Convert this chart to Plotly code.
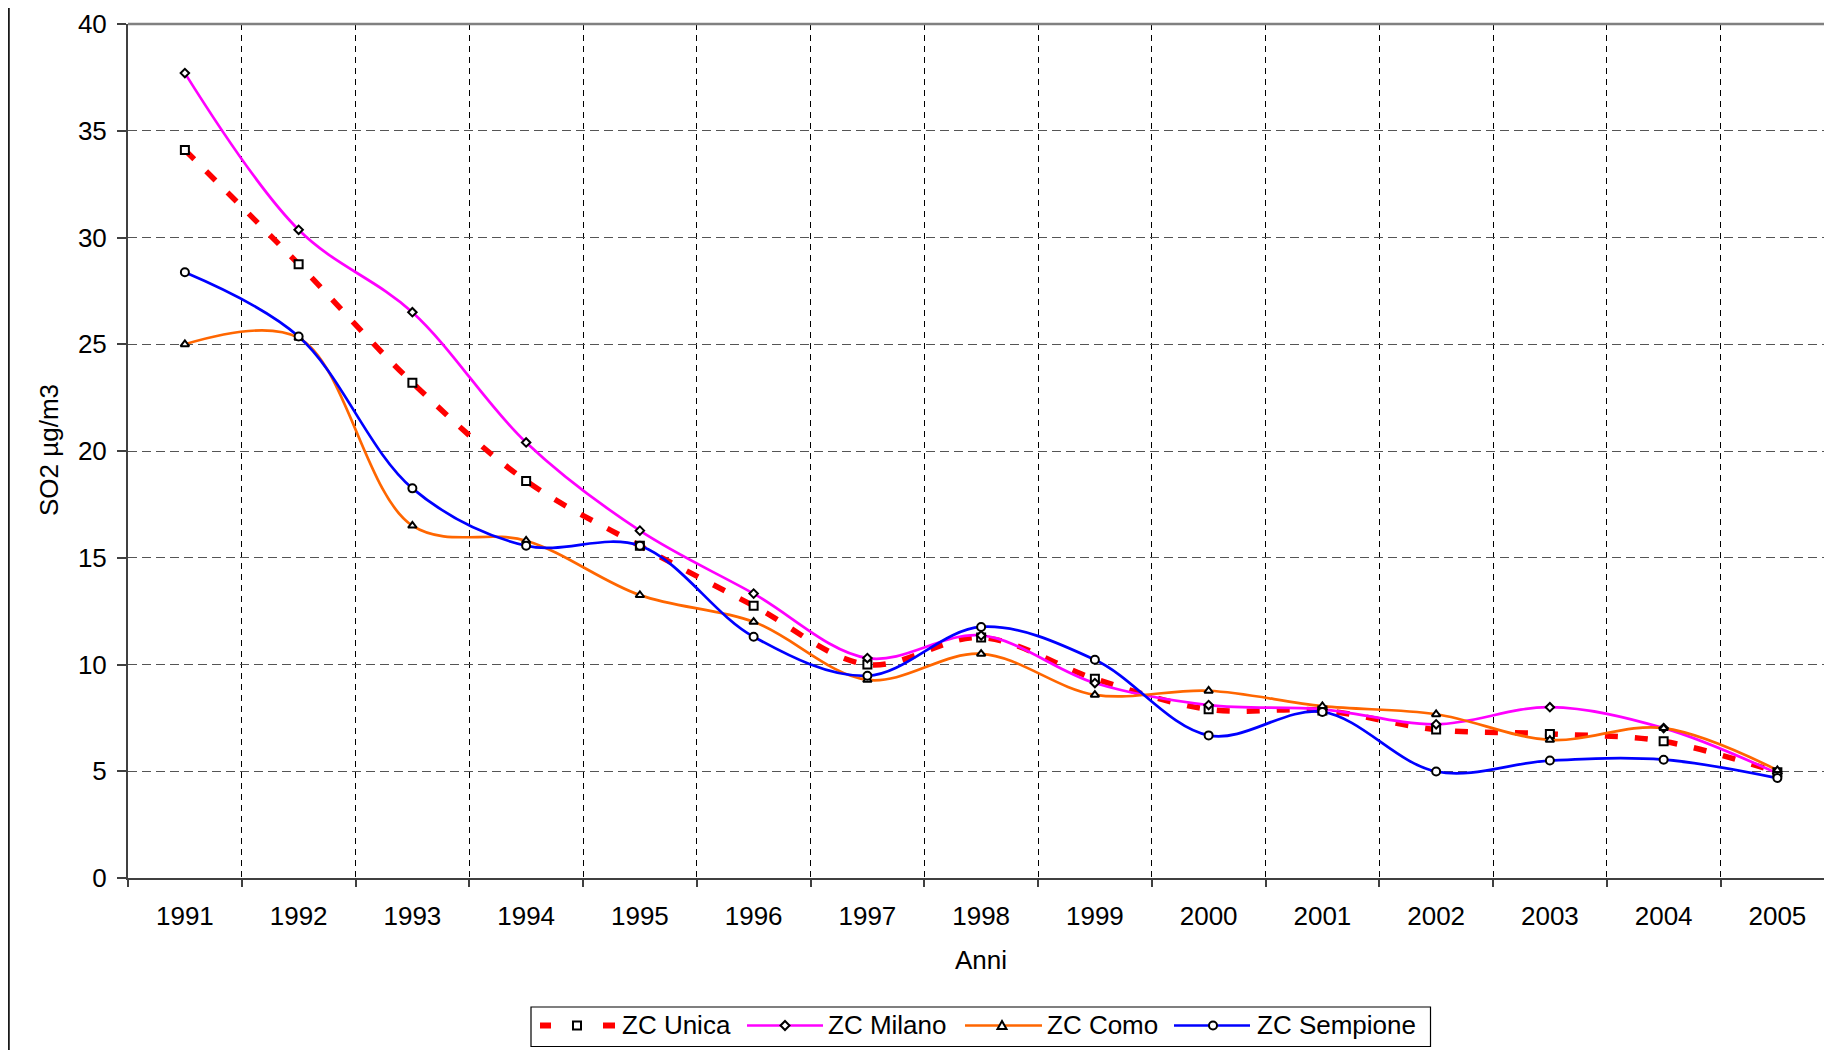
import plotly.graph_objects as go

years = ["1991", "1992", "1993", "1994", "1995", "1996", "1997", "1998",
         "1999", "2000", "2001", "2002", "2003", "2004", "2005"]
zc_unica = [34.1, 28.75, 23.2, 18.6, 15.56, 12.75, 10.0, 11.26, 9.33, 7.9, 7.85, 6.95, 6.75, 6.4, 4.95]
zc_milano = [37.7, 30.36, 26.5, 20.4, 16.27, 13.32, 10.3, 11.36, 9.13, 8.1, 7.9, 7.2, 8.0, 7.02, 4.9]
zc_como = [25.0, 25.3, 16.5, 15.8, 13.25, 12.0, 9.28, 10.5, 8.58, 8.77, 8.05, 7.67, 6.47, 7.02, 5.05]
zc_sempione = [28.37, 25.36, 18.25, 15.56, 15.56, 11.3, 9.47, 11.76, 10.22, 6.68, 7.78, 4.99, 5.5, 5.54, 4.68]

series_names = ["ZC Unica", "ZC Milano", "ZC Como", "ZC Sempione"]
series_values = [zc_unica, zc_milano, zc_como, zc_sempione]
series_colors = ["#FF0000", "#FF00FF", "#FF6600", "#0000FF"]
series_widths = [5.5, 2.7, 2.7, 2.7]
series_dash = ["13px,17px", "solid", "solid", "solid"]
series_symbols = ["square", "diamond", "triangle-up", "circle"]
series_msize = [8, 6.5, 7.5, 8]

FONT = "Liberation Sans, Arial, Helvetica, sans-serif"
FS = 26

# page offset (body margin) and geometry
OFF = 8
W, H = 1832 - OFF, 1050 - OFF
L, R, T, B = 120, 0, 16, 172
pw = W - L - R
ph = H - T - B


def px(page_x):
    return (page_x - OFF - L) / pw


def py(page_y):
    return (H - B - (page_y - OFF)) / ph


fig = go.Figure()

# lines first
for name, vals, color, w, dash in zip(series_names, series_values, series_colors, series_widths, series_dash):
    fig.add_trace(go.Scatter(
        x=years, y=vals, mode="lines", name=name, showlegend=False,
        line=dict(color=color, width=w, dash=dash, shape="spline", smoothing=1.0)))
# markers on top
for name, vals, sym, ms in zip(series_names, series_values, series_symbols, series_msize):
    fig.add_trace(go.Scatter(
        x=years, y=vals, mode="markers", name=name, showlegend=False,
        marker=dict(symbol=sym, size=ms, color="white", line=dict(color="black", width=2))))

fig.update_layout(
    width=W, height=H,
    margin=dict(l=L, r=R, t=T, b=B, autoexpand=False),
    paper_bgcolor="white", plot_bgcolor="white",
    font=dict(family=FONT, size=FS, color="black"),
    showlegend=False,
    xaxis=dict(
        type="category", range=[-0.5, -0.5 + pw / 113.75], tickson="boundaries",
        showgrid=True, gridcolor="#000000", gridwidth=1, griddash="6px,5px",
        showline=True, linecolor="#404040", linewidth=2,
        ticks="outside", ticklen=7, tickcolor="#404040", tickwidth=1.5,
        tickfont=dict(family=FONT, size=FS, color="black"), ticklabelstandoff=14,
        zeroline=False, fixedrange=True),
    yaxis=dict(
        range=[0, 40], dtick=5, tick0=0,
        showgrid=True, gridcolor="#555555", gridwidth=1, griddash="9px,5px",
        showline=True, linecolor="#404040", linewidth=2,
        ticks="outside", ticklen=9, tickcolor="#404040", tickwidth=1.5,
        tickfont=dict(family=FONT, size=FS, color="black"), ticklabelstandoff=5,
        zeroline=False, fixedrange=True),
)

# axis titles
fig.add_annotation(text="Anni", xref="paper", yref="paper", x=px(981), y=py(960),
                   xanchor="center", yanchor="middle", showarrow=False,
                   font=dict(family=FONT, size=FS, color="black"))
fig.add_annotation(text="SO2 µg/m3", xref="paper", yref="paper", x=px(49), y=py(450),
                   xanchor="center", yanchor="middle", showarrow=False, textangle=-90,
                   font=dict(family=FONT, size=FS, color="black"))

# top border of plot area (gray)
fig.add_shape(type="line", xref="paper", yref="paper", x0=0, x1=1, y0=1, y1=1,
              line=dict(color="#808080", width=2.5), layer="above")
# outer chart border at left (as far left as the figure reaches)
fig.add_shape(type="line", xref="paper", yref="paper", x0=px(8.9), x1=px(8.9), y0=py(1060), y1=py(-10),
              line=dict(color="black", width=1.6), layer="above")

# ---- custom legend ----
fig.add_shape(type="rect", xref="paper", yref="paper",
              x0=px(531), x1=px(1430.5), y0=py(1046.5), y1=py(1007),
              line=dict(color="black", width=1.2), fillcolor="white", layer="above")
LY = 1025.5
leg_line_segments = [
    [(540, 551), (603, 615)],
    [(747, 823)],
    [(965, 1042)],
    [(1174, 1250)],
]
leg_marker_x = [577, 785, 1002, 1213]
leg_text_x = [621.5, 828, 1047, 1256.5]
leg_line_w = [6, 2.7, 2.7, 2.7]

for segs, color, lw in zip(leg_line_segments, series_colors, leg_line_w):
    for a, b in segs:
        fig.add_shape(type="line", xref="paper", yref="paper", x0=px(a), x1=px(b),
                      y0=py(LY), y1=py(LY), line=dict(color=color, width=lw), layer="above")

mk = dict(color="black", width=2)
# square
cx = leg_marker_x[0]
fig.add_shape(type="rect", xref="paper", yref="paper", x0=px(cx - 4), x1=px(cx + 4),
              y0=py(LY + 4), y1=py(LY - 4), line=mk, fillcolor="white", layer="above")
# diamond
cx = leg_marker_x[1]
fig.add_shape(type="path", xref="paper", yref="paper",
              path=f"M {px(cx - 4.5)},{py(LY)} L {px(cx)},{py(LY - 4.5)} L {px(cx + 4.5)},{py(LY)} L {px(cx)},{py(LY + 4.5)} Z",
              line=mk, fillcolor="white", layer="above")
# triangle
cx = leg_marker_x[2]
fig.add_shape(type="path", xref="paper", yref="paper",
              path=f"M {px(cx - 4.5)},{py(LY + 3.5)} L {px(cx)},{py(LY - 4.5)} L {px(cx + 4.5)},{py(LY + 3.5)} Z",
              line=mk, fillcolor="white", layer="above")
# circle
cx = leg_marker_x[3]
fig.add_shape(type="circle", xref="paper", yref="paper", x0=px(cx - 4), x1=px(cx + 4),
              y0=py(LY + 4), y1=py(LY - 4), line=mk, fillcolor="white", layer="above")

for name, tx in zip(series_names, leg_text_x):
    fig.add_annotation(text=name, xref="paper", yref="paper", x=px(tx), y=py(LY),
                       xanchor="left", yanchor="middle", showarrow=False, xshift=-2,
                       font=dict(family=FONT, size=FS, color="black"))

fig.write_html("out.html")
